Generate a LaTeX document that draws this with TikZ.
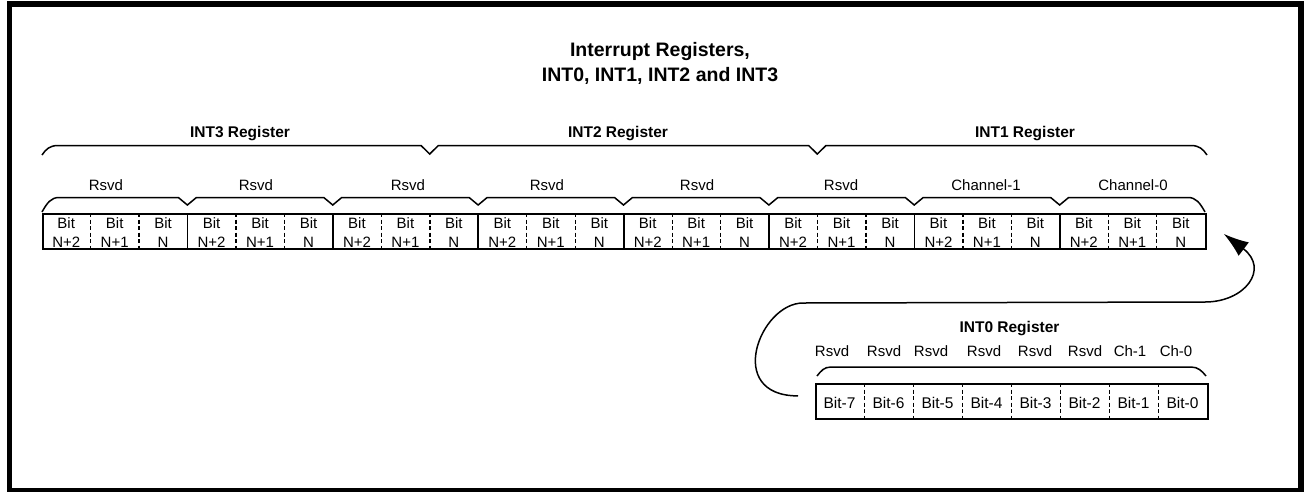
\documentclass[tikz,border=0pt]{standalone}
\usepackage{fontspec}
\setmainfont{Liberation Sans}
\usetikzlibrary{arrows.meta}

\tikzset{
  regbox/.style={draw, line width=1.8pt, inner sep=0pt, minimum height=35pt},
  bitcell/.style={inner sep=0pt, minimum height=35pt, align=center, font=\fontsize{15}{19}\selectfont},
  cut/.style={line width=1.3pt, dash pattern=on 4pt off 2.5pt},
  brace/.style={line width=1.5pt},
  reglabel/.style={font=\fontsize{15.5}{17}\selectfont\bfseries, anchor=base},
  fieldlabel/.style={font=\fontsize{15}{17}\selectfont, anchor=base},
}

\begin{document}
\begin{tikzpicture}[x=1pt, y=-1pt]
  \useasboundingbox (0,0) rectangle (1304,491);
  % outer frame
  \draw[line width=5.5pt] (9.5,4) rectangle (1301,490.5);
  % title
  \node[font=\fontsize{19.5}{24.5}\selectfont\bfseries, align=center] (title) at (660,63.5)
    {Interrupt Registers,\\INT0, INT1, INT2 and INT3};

  % INT3, INT2, INT1 -- one long row of 24 bits
  \node[reglabel] (int3lab) at (240,137.5) {INT3 Register};
  \node[reglabel] (int2lab) at (618,137.5) {INT2 Register};
  \node[reglabel] (int1lab) at (1025,137.5) {INT1 Register};
  \draw[brace] (42,155) .. controls (46,149) and (50,145.5) .. (58,145.5)
    -- (421,145.5) -- (429.7,154) -- (438.4,145.5)
    -- (808.6,145.5) -- (817.3,154) -- (826,145.5)
    -- (1191,145.5) .. controls (1199,145.5) and (1203,149) .. (1207,155);

  \foreach \x/\t [count=\i] in {106/Rsvd,256/Rsvd,408/Rsvd,547/Rsvd,697/Rsvd,841/Rsvd,986/Channel-1,1133/Channel-0}
    \node[fieldlabel] (f\i) at (\x,190) {\t};
  \draw[brace] (42,212) .. controls (47,203) and (51,197.5) .. (59,197.5)
    \foreach \k in {1,...,7} { -- ({42+145.375*\k-9},197.5) -- ({42+145.375*\k},205) -- ({42+145.375*\k+9},197.5) }
    -- (1188,197.5) .. controls (1196,197.5) and (1200,203) .. (1205,212);

  \node[regbox, minimum width=1163pt, anchor=north west] (row) at (42,213) {};
  \foreach \g in {0,...,7} {
    \foreach \b/\bit in {0/N+2,1/N+1,2/N} {
      \node[bitcell, minimum width=48.458pt] (c\g\b) at ({42+(3*\g+\b+0.5)*48.458},232.5) {Bit\\\bit};
    }
    \draw[cut] (c\g0.east |- row.north) -- (c\g0.east |- row.south);
    \draw[cut] (c\g1.east |- row.north) -- (c\g1.east |- row.south);
  }
  \foreach \g in {0,...,6}
    \draw[line width=1.8pt] (c\g2.east |- row.north) -- (c\g2.east |- row.south);

  % INT0 -- 8 bits
  \node[reglabel] (int0lab) at (1009.5,332) {INT0 Register};
  \foreach \x/\t [count=\i] in {832/Rsvd,884/Rsvd,931/Rsvd,984/Rsvd,1035/Rsvd,1085/Rsvd,1130/Ch-1,1176/Ch-0}
    \node[fieldlabel] (g\i) at (\x,356) {\t};
  \draw[brace] (817,376) .. controls (821,371) and (824,367) .. (831,367)
    -- (1191,367) .. controls (1198,367) and (1202,371) .. (1206,376);

  \node[regbox, minimum width=392pt, anchor=north west] (int0) at (815,383) {};
  \foreach \b in {0,...,7} {
    \pgfmathtruncatemacro\n{7-\b}
    \node[bitcell, minimum width=49pt, font=\fontsize{15.5}{17}\selectfont] (d\b) at ({815+(\b+0.5)*49},402.5) {Bit-\n};
  }
  \foreach \b in {0,...,6}
    \draw[cut] (d\b.east |- int0.north) -- (d\b.east |- int0.south);

  % loop back from INT0 to the long row
  \coordinate (loopL) at (803,303);
  \coordinate (loopR) at (1205,302);
  \draw[line width=1.5pt, -{Latex[length=25pt,width=17pt]}]
    ([shift={(-17,-5.5)}]int0.west) .. controls +(-74,0) and +(-43,0) .. (loopL)
    -- (loopR) .. controls +(40,0) and +(46,35) .. ([shift={(17,2.5)}]row.east);
\end{tikzpicture}
\end{document}
